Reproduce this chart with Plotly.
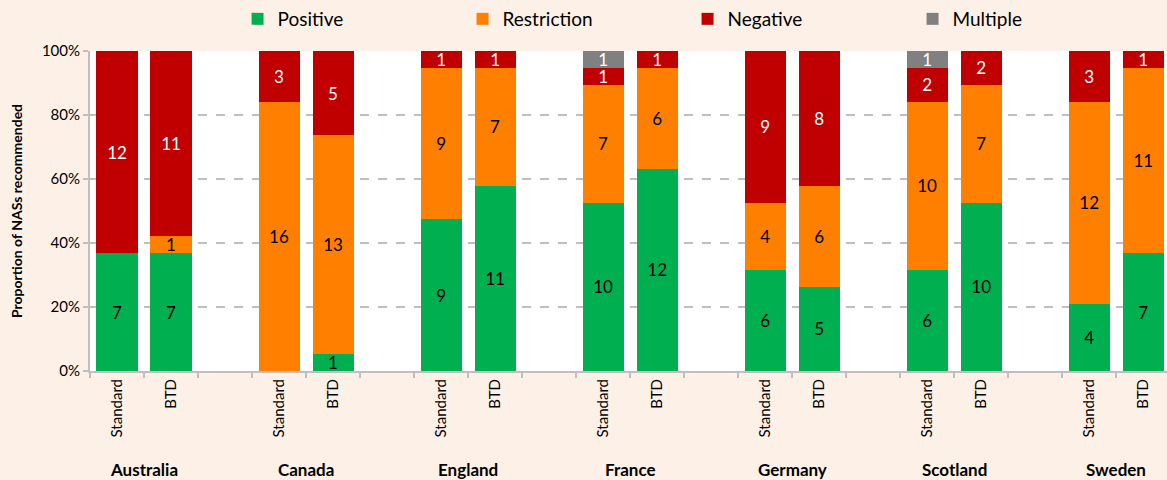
import plotly.graph_objects as go

countries = ["Australia", "Canada", "England", "France", "Germany", "Scotland", "Sweden"]
pathways = ["Standard", "BTD"]

# counts per bar, order: country x (Standard, BTD)
positive = [7, 7, 0, 1, 9, 11, 10, 12, 6, 5, 6, 10, 4, 7]
restriction = [0, 1, 16, 13, 9, 7, 7, 6, 4, 6, 10, 7, 12, 11]
negative = [12, 11, 3, 5, 1, 1, 1, 1, 9, 8, 2, 2, 3, 1]
multiple = [0, 0, 0, 0, 0, 0, 1, 0, 0, 0, 1, 0, 0, 0]

series = [
    ("Positive", positive, "#00B050", "black"),
    ("Restriction", restriction, "#FF8000", "black"),
    ("Negative", negative, "#C00000", "white"),
    ("Multiple", multiple, "#808080", "white"),
]

xpos = []
xlabels = []
for i, c in enumerate(countries):
    for j, p in enumerate(pathways):
        xpos.append(3 * i + j)
        xlabels.append(p)

FONT = "Lato, Open Sans, sans-serif"

fig = go.Figure()
for name, vals, color, tcol in series:
    fig.add_trace(go.Bar(
        x=xpos, y=vals, name=name,
        marker=dict(color=color, line=dict(width=0)),
        text=[str(v) if v else "" for v in vals],
        textposition="inside", insidetextanchor="middle", textangle=0,
        textfont=dict(color=tcol, size=17, family=FONT),
        width=0.76,
        hoverinfo="skip",
    ))

annotations = []
for i, c in enumerate(countries):
    annotations.append(dict(
        x=3 * i + 0.5, y=-0.309, xref="x", yref="paper",
        text="<b>" + c + "</b>", showarrow=False,
        font=dict(size=17, color="black", family=FONT),
        xanchor="center", yanchor="middle",
    ))

fig.update_layout(
    barmode="stack", barnorm="percent",
    width=1167, height=480,
    margin=dict(l=90, r=0, t=51, b=109),
    paper_bgcolor="#FDF0E7", plot_bgcolor="white",
    font=dict(family=FONT, color="black"),
    uniformtext=dict(mode="show", minsize=17),
    showlegend=True,
    legend=dict(orientation="h", x=0.137, y=1.1, xanchor="left", yanchor="middle",
                font=dict(size=19, family=FONT), entrywidth=180, entrywidthmode="pixels",
                bgcolor="rgba(0,0,0,0)", traceorder="normal"),
    annotations=annotations,
)
fig.update_xaxes(
    range=[-0.5, 19.44], tickvals=xpos, ticktext=xlabels, tickangle=-90,
    ticks="", tickfont=dict(size=15, family=FONT),
    showline=True, linecolor="#BFBFBF", linewidth=2,
    showgrid=False, zeroline=False,
    minor=dict(tick0=-0.5, dtick=1, ticks="outside", ticklen=5, tickcolor="#BFBFBF", tickwidth=2, showgrid=False),
)
fig.update_yaxes(
    range=[0, 100], dtick=20, ticksuffix="%",
    tickfont=dict(size=15, family=FONT),
    showline=True, linecolor="#BFBFBF", linewidth=2,
    ticks="outside", ticklen=5, tickcolor="#BFBFBF", tickwidth=2,
    showgrid=True, gridcolor="#BFBFBF", griddash="dash", gridwidth=1.5,
    zeroline=False,
    title=dict(text="<b>Proportion of NASs recommended</b>", font=dict(size=14, family=FONT), standoff=16),
)

fig.write_html("out.html", config={"displayModeBar": False},
               post_script="document.body.style.margin='0px';document.body.style.overflow='hidden';")
